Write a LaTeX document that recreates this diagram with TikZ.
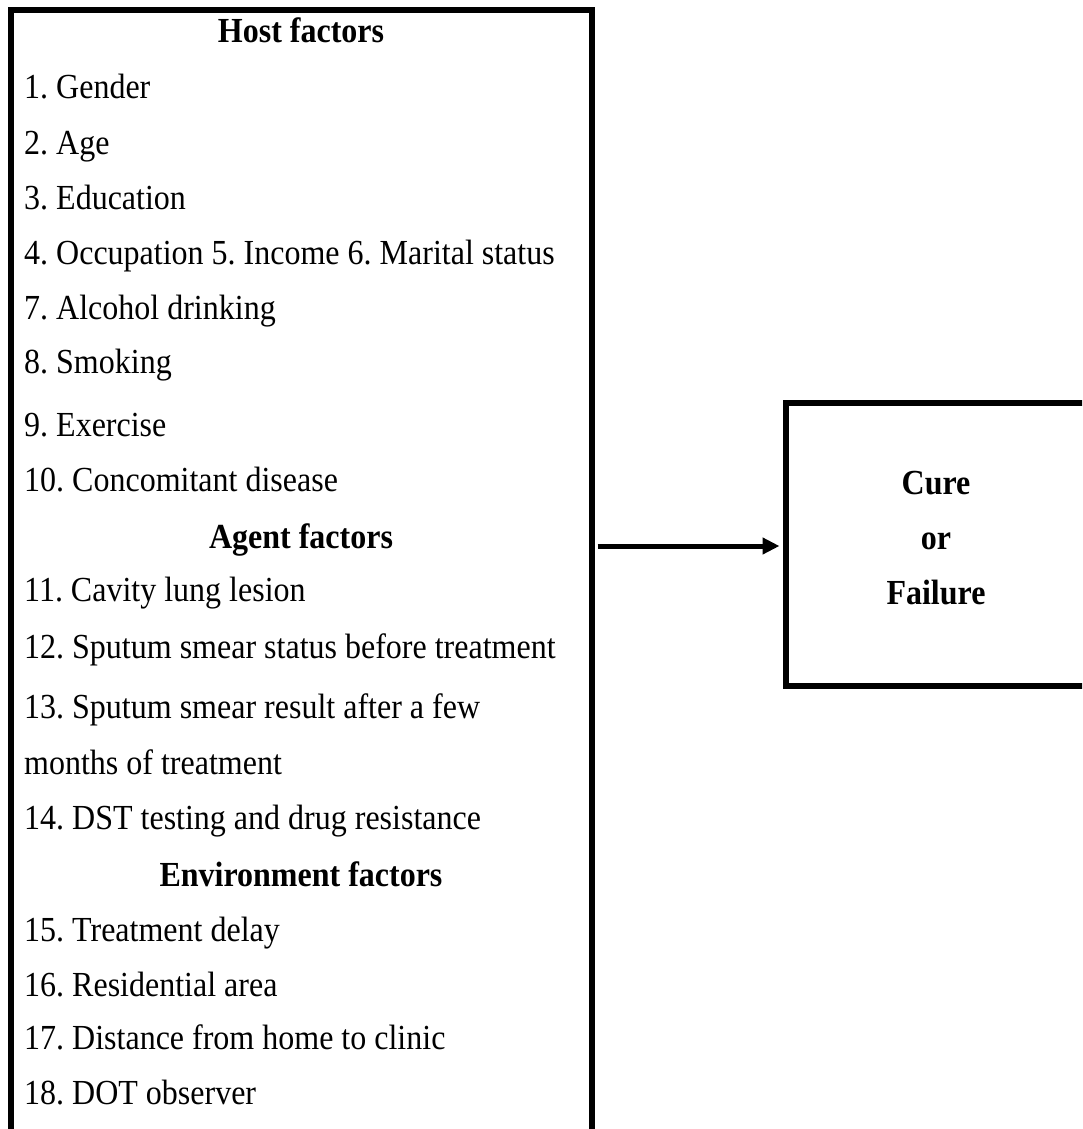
\documentclass[tikz,border=0pt]{standalone}
\usepackage{fontspec}
\usepackage{graphicx}
\setmainfont{Liberation Serif}
\usetikzlibrary{arrows.meta}
\frenchspacing
\newcommand\tallt[1]{\scalebox{1}[1.1]{#1}}
\begin{document}
\begin{tikzpicture}[x=1pt,y=1pt,
  frame/.style={draw=black,line width=6pt,rectangle,inner sep=0pt},
  item/.style={anchor=base west,inner sep=0pt,font=\fontsize{32}{38}\selectfont\frenchspacing},
  head/.style={anchor=base,inner sep=0pt,font=\fontsize{32}{38}\selectfont\bfseries},
  outtxt/.style={anchor=base,inner sep=0pt,font=\fontsize{32}{38}\selectfont\bfseries},
  flow/.style={line width=5pt,-{Triangle[length=17pt,width=16pt]}}]
\useasboundingbox (0,0) rectangle (1082,-1129);
\clip (0,0) rectangle (1082,-1129);
% left box (open at the bottom, continues past the page)
\node[frame,minimum width=581pt,minimum height=1190pt] (hostbox) at (301,-605) {};
% right box (continues past the right edge)
\node[frame,minimum width=315pt,minimum height=283pt] (outcome) at (943,-544.5) {};
% headers
\node[head] (h1) at (301,-43) {\tallt{Host factors}};
\node[head] (h2) at (301,-548) {\tallt{Agent factors}};
\node[head] (h3) at (301,-886) {\tallt{Environment factors}};
% items
\node[item] (i1) at (24,-99) {\tallt{1. Gender}};
\node[item] (i2) at (24,-154) {\tallt{2. Age}};
\node[item] (i3) at (24,-209) {\tallt{3. Education}};
\node[item] (i4) at (24,-264) {\tallt{4. Occupation 5. Income 6. Marital status}};
\node[item] (i7) at (24,-319) {\tallt{7. Alcohol drinking}};
\node[item] (i8) at (24,-373) {\tallt{8. Smoking}};
\node[item] (i9) at (24,-436) {\tallt{9. Exercise}};
\node[item] (i10) at (24,-491) {\tallt{10. Concomitant disease}};
\node[item] (i11) at (24,-601) {\tallt{11. Cavity lung lesion}};
\node[item] (i12) at (24,-658) {\tallt{12. Sputum smear status before treatment}};
\node[item] (i13) at (24,-718) {\tallt{13. Sputum smear result after a few}};
\node[item] (i13b) at (24,-774) {\tallt{months of treatment}};
\node[item] (i14) at (24,-829) {\tallt{14. DST testing and drug resistance}};
\node[item] (i15) at (24,-941) {\tallt{15. Treatment delay}};
\node[item] (i16) at (24,-996) {\tallt{16. Residential area}};
\node[item] (i17) at (24,-1049) {\tallt{17. Distance from home to clinic}};
\node[item] (i18) at (24,-1104) {\tallt{18. DOT observer}};
% outcome text
\node[outtxt] (o1) at (936,-494) {\tallt{Cure}};
\node[outtxt] (o2) at (936,-549) {\tallt{or}};
\node[outtxt] (o3) at (936,-604) {\tallt{Failure}};
% connector
\coordinate (ay) at (0,-546);
\draw[flow,shorten <=3pt,shorten >=3pt] (hostbox.east |- ay) -- (outcome.west |- ay);
\end{tikzpicture}
\end{document}
